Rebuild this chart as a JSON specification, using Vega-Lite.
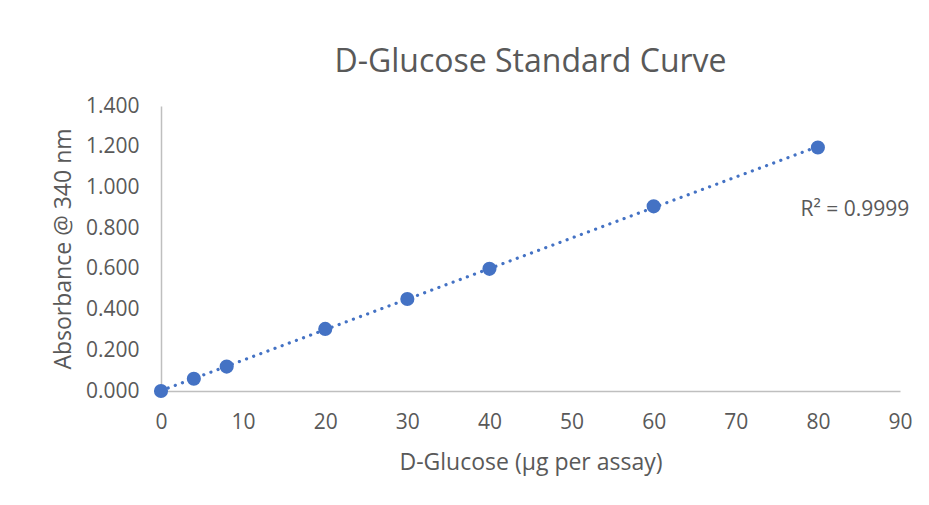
{
  "$schema": "https://vega.github.io/schema/vega-lite/v6.json",
  "autosize": "none",
  "width": 739,
  "height": 285,
  "padding": {"left": 161, "top": 106, "right": 29, "bottom": 114},
  "background": "white",
  "title": {
    "text": "D-Glucose Standard Curve",
    "font": "Open Sans",
    "fontSize": 32,
    "fontWeight": "normal",
    "color": "#595959",
    "anchor": "middle",
    "offset": 16
  },
  "datasets": {
    "points": [
      {"glucose": 0, "absorbance": 0.0},
      {"glucose": 4, "absorbance": 0.06},
      {"glucose": 8, "absorbance": 0.12},
      {"glucose": 20, "absorbance": 0.305},
      {"glucose": 30, "absorbance": 0.452},
      {"glucose": 40, "absorbance": 0.6},
      {"glucose": 60, "absorbance": 0.907},
      {"glucose": 80, "absorbance": 1.196}
    ],
    "note": [
      {"glucose": 84.5, "absorbance": 0.89, "label": "R² = 0.9999"}
    ]
  },
  "config": {
    "view": {"stroke": null},
    "axis": {
      "grid": false,
      "ticks": false,
      "domainColor": "#BFBFBF",
      "domainWidth": 1.5,
      "labelFont": "Open Sans",
      "labelFontSize": 21,
      "labelColor": "#595959",
      "titleFont": "Open Sans",
      "titleFontSize": 23,
      "titleFontWeight": "normal",
      "titleColor": "#595959"
    }
  },
  "layer": [
    {
      "data": {"name": "points"},
      "transform": [{"regression": "absorbance", "on": "glucose", "extent": [0, 80]}],
      "mark": {"type": "line", "color": "#4472C4", "strokeWidth": 3.2, "strokeDash": [0.1, 7.5], "strokeCap": "round"},
      "encoding": {
        "x": {"field": "glucose", "type": "quantitative"},
        "y": {"field": "absorbance", "type": "quantitative"}
      }
    },
    {
      "data": {"name": "points"},
      "mark": {"type": "circle", "color": "#4472C4", "opacity": 1, "size": 200},
      "encoding": {
        "x": {
          "field": "glucose",
          "type": "quantitative",
          "scale": {"domain": [0, 90], "nice": false, "zero": true},
          "axis": {"values": [0, 10, 20, 30, 40, 50, 60, 70, 80, 90], "title": "D-Glucose (µg per assay)", "labelPadding": 20, "titlePadding": 19, "labelFlush": false}
        },
        "y": {
          "field": "absorbance",
          "type": "quantitative",
          "scale": {"domain": [0, 1.4], "nice": false},
          "axis": {"values": [0, 0.2, 0.4, 0.6, 0.8, 1.0, 1.2, 1.4], "format": ".3f", "title": "Absorbance @ 340 nm", "labelPadding": 22, "titlePadding": 10, "labelFlush": false}
        }
      }
    },
    {
      "data": {"name": "note"},
      "mark": {"type": "text", "font": "Open Sans", "fontSize": 21, "color": "#595959", "align": "center", "baseline": "middle"},
      "encoding": {
        "x": {"field": "glucose", "type": "quantitative"},
        "y": {"field": "absorbance", "type": "quantitative"},
        "text": {"field": "label"}
      }
    }
  ]
}
